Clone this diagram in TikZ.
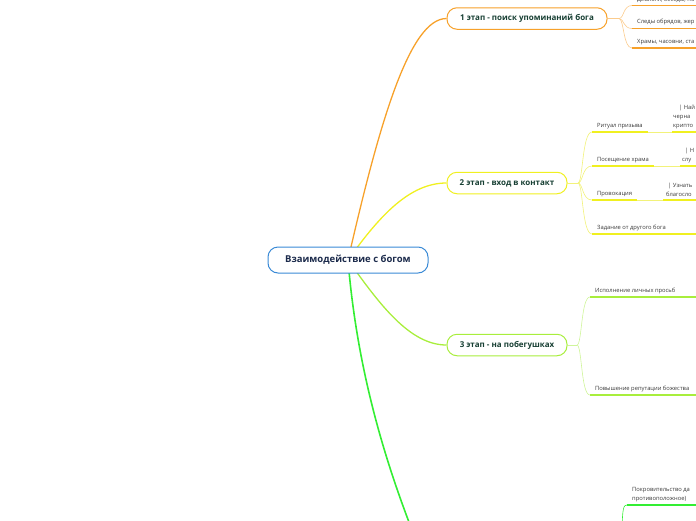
\documentclass[tikz,border=0pt]{standalone}
\usepackage{fontspec}
\setmainfont{Open Sans}
\usetikzlibrary{backgrounds}
\definecolor{cblue}{HTML}{3A8AD6}
\definecolor{cnavy}{HTML}{1C2B4C}
\definecolor{cdg}{HTML}{173F33}
\definecolor{corange}{HTML}{F7A12A}
\definecolor{corangeL}{HTML}{FBCB8C}
\definecolor{cyel}{HTML}{F0F020}
\definecolor{cyelL}{HTML}{F2F27A}
\definecolor{clg}{HTML}{A8EE3C}
\definecolor{clgL}{HTML}{CFF59A}
\definecolor{cgreen}{HTML}{33EE33}
\definecolor{ctext}{HTML}{3A3A3A}
\tikzset{
 central/.style={draw=cblue, line width=1pt, fill=white, rounded corners=10pt, minimum width=160pt, minimum height=26pt, font=\bfseries\fontsize{9.5}{11}\selectfont, text=cnavy, inner sep=0pt},
 stagebox/.style={draw=#1, line width=1pt, fill=white, rounded corners=10pt, minimum height=21.5pt, font=\bfseries\fontsize{8}{9}\selectfont, text=cdg, inner sep=0pt},
 leaf/.style={anchor=south west, inner xsep=5pt, inner ysep=3pt, font=\fontsize{5.8}{9}\selectfont, text=ctext, align=left},
 uline/.style={line width=1.6pt, draw=#1},
 mainlink/.style={line width=1.3pt, draw=#1},
 sublink/.style={line width=0.6pt, draw=#1},
}
\begin{document}
\begin{tikzpicture}[x=1pt,y=-1pt]
\useasboundingbox (0,0) rectangle (696,520);
\clip (0,0) rectangle (696,520);
\coordinate (edge) at (710,0);
% central and stages
\node[central] (c) at (348,260) {Взаимодействие с богом};
\node[stagebox=corange, minimum width=160pt] (s1) at (527,18.5) {1 этап - поиск упоминаний бога};
\node[stagebox=cyel, minimum width=120pt] (s2) at (507,183) {2 этап - вход в контакт};
\node[stagebox=clg, minimum width=120pt] (s3) at (507,345) {3 этап - на побегушках};
\coordinate (s4) at (412,530);
% stage 1 leaves
\node[leaf] (l11) at (632,5.5) {Диалоги, беседы, по};
\node[leaf] (l12) at (632,28.5) {Следы обрядов, жер};
\node[leaf] (l13) at (632,48) {Храмы, часовни, ста};
% stage 2 leaves
\node[leaf] (l21) at (592,132) {Ритуал призыва};
\node[leaf] (l22) at (592,166) {Посещение храма};
\node[leaf] (l23) at (592,200) {Провокация};
\node[leaf] (l24) at (592,234) {Задание от другого бога};
\node[leaf, inner xsep=1pt] (d21) at (672,132) {\hspace*{6pt}| Най\\черна\\крипто};
\node[leaf, inner xsep=2pt] (d22) at (680,166) {\hspace*{3pt}| Н\\слу};
\node[leaf, inner xsep=3pt] (d23) at (663,200) {\hspace*{2pt}| Узнать\\благосло};
% stage 3 leaves
\node[leaf] (l31) at (590,297) {Исполнение личных просьб};
\node[leaf] (l32) at (590,395) {Повышение репутации божества};
% stage 4 leaf
\node[leaf] (l41) at (627,505) {Покровительство да\\противоположное)};
\coordinate (b4) at (622,530);
% underlines
\foreach \n in {l11,l12,l13} \draw[uline=corange] (\n.south west) -- (\n.south west -| edge);
\foreach \n in {l21,l22,l23} \draw[uline=cyel] (\n.south west) -- (\n.south east);
\foreach \n in {l24,d21,d22,d23} \draw[uline=cyel] (\n.south west) -- (\n.south west -| edge);
\foreach \n in {l31,l32} \draw[uline=clg] (\n.south west) -- (\n.south west -| edge);
\draw[uline=cgreen] (l41.south west) -- (l41.south west -| edge);
\begin{pgfonlayer}{background}
\clip (0,0) rectangle (696,520);
% main links
\draw[mainlink=corange] (c.center) .. controls (380,120) and (410,18.5) .. (s1.west);
\draw[mainlink=cyel] (c.center) .. controls (380,215) and (410,183) .. (s2.west);
\draw[mainlink=clg] (c.center) .. controls (380,305) and (410,345) .. (s3.west);
\draw[mainlink=cgreen, line width=1.6pt] (c.center) .. controls (357,370) and (385,460) .. (s4);
% stage 1 branches
\draw[sublink=corangeL] (s1.east) -- (619,18.5);
\foreach \n in {l11,l12,l13}
  \draw[sublink=corangeL] (619,18.5) .. controls (624,18.5) and (623,0 |- \n.south west) .. (\n.south west);
% stage 2 branches
\draw[sublink=cyelL] (s2.east) -- (578,183);
\foreach \n in {l21,l22,l23,l24}
  \draw[sublink=cyelL] (578,183) .. controls (583,183) and (582,0 |- \n.south west) .. (\n.south west);
\draw[sublink=cyelL] (l21.south east) -- (d21.south west);
\draw[sublink=cyelL] (l22.south east) -- (d22.south west);
\draw[sublink=cyelL] (l23.south east) -- (d23.south west);
% stage 3 branches
\draw[sublink=clgL] (s3.east) -- (577,345);
\foreach \n in {l31,l32}
  \draw[sublink=clgL] (577,345) .. controls (582,345) and (581,0 |- \n.south west) .. (\n.south west);
% stage 4 branch
\draw[sublink=cgreen] (b4) .. controls (622.5,508) and (623.5,505) .. (l41.south west);
\end{pgfonlayer}
\end{tikzpicture}
\end{document}
